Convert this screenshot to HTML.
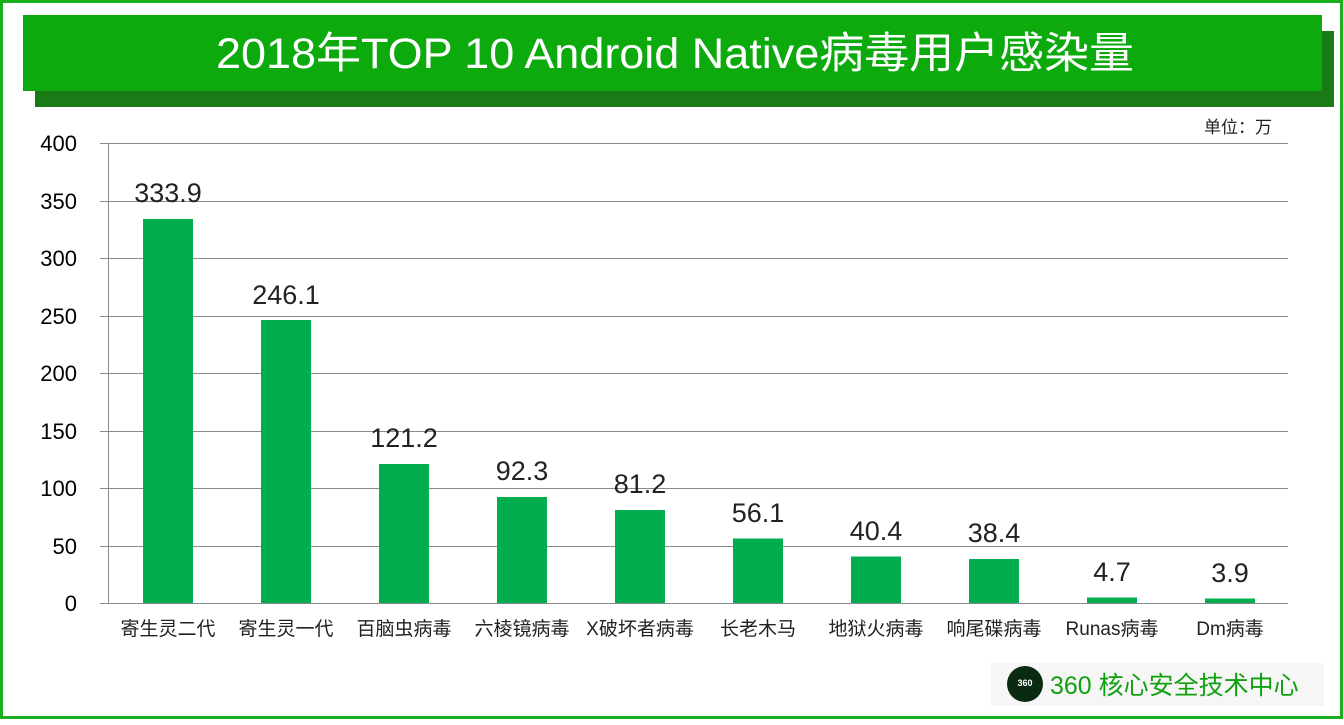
<!DOCTYPE html>
<html><head><meta charset="utf-8"><style>
body{margin:0;width:1344px;height:720px;overflow:hidden;background:#fff;font-family:"Liberation Sans","Noto Sans CJK SC",sans-serif;}
</style></head><body>
<svg width="1344" height="720" xmlns="http://www.w3.org/2000/svg" font-family="Liberation Sans, Noto Sans CJK SC, sans-serif">
<rect x="1.5" y="1.5" width="1340" height="716" fill="#fff" stroke="#19b01c" stroke-width="3"/>
<rect x="35" y="31" width="1299" height="76" fill="#1a7a16"/>
<rect x="23" y="15" width="1299" height="76" fill="#0caa0c"/>
<text x="216" y="68" font-size="43" fill="#fff" textLength="918" lengthAdjust="spacingAndGlyphs">2018年TOP 10 Android Native病毒用户感染量</text>
<text x="1272" y="133" font-size="17" fill="#222" text-anchor="end">单位：万</text>
<g stroke="#8a8a8a" stroke-width="1">
<line x1="100" y1="143.5" x2="1288" y2="143.5"/>
<line x1="100" y1="201.5" x2="1288" y2="201.5"/>
<line x1="100" y1="258.5" x2="1288" y2="258.5"/>
<line x1="100" y1="316.5" x2="1288" y2="316.5"/>
<line x1="100" y1="373.5" x2="1288" y2="373.5"/>
<line x1="100" y1="431.5" x2="1288" y2="431.5"/>
<line x1="100" y1="488.5" x2="1288" y2="488.5"/>
<line x1="100" y1="546.5" x2="1288" y2="546.5"/>
<line x1="100" y1="603.5" x2="1288" y2="603.5"/>
<line x1="108.5" y1="143" x2="108.5" y2="604"/>
</g>
<g font-size="22" fill="#000" text-anchor="end">
<text x="77" y="151">400</text><text x="77" y="209">350</text><text x="77" y="266">300</text>
<text x="77" y="324">250</text><text x="77" y="381">200</text><text x="77" y="439">150</text>
<text x="77" y="496">100</text><text x="77" y="554">50</text><text x="77" y="611">0</text>
</g>
<g fill="#00ae4f">
<rect x="143" y="219" width="50" height="384"/>
<rect x="261" y="320" width="50" height="283"/>
<rect x="379" y="464" width="50" height="139"/>
<rect x="497" y="497" width="50" height="106"/>
<rect x="615" y="510" width="50" height="93"/>
<rect x="733" y="538.5" width="50" height="64.5"/>
<rect x="851" y="556.5" width="50" height="46.5"/>
<rect x="969" y="559" width="50" height="44"/>
<rect x="1087" y="597.5" width="50" height="5.5"/>
<rect x="1205" y="598.5" width="50" height="4.5"/>
</g>
<g font-size="27" fill="#222" text-anchor="middle">
<text x="168" y="202">333.9</text><text x="286" y="304">246.1</text><text x="404" y="447">121.2</text>
<text x="522" y="480">92.3</text><text x="640" y="493">81.2</text><text x="758" y="522">56.1</text>
<text x="876" y="540">40.4</text><text x="994" y="542">38.4</text><text x="1112" y="581">4.7</text>
<text x="1230" y="582">3.9</text>
</g>
<g font-size="19" fill="#222" text-anchor="middle">
<text x="168" y="635">寄生灵二代</text><text x="286" y="635">寄生灵一代</text><text x="404" y="635">百脑虫病毒</text>
<text x="522" y="635">六棱镜病毒</text><text x="640" y="635">X破坏者病毒</text><text x="758" y="635">长老木马</text>
<text x="876" y="635">地狱火病毒</text><text x="994" y="635">响尾碟病毒</text><text x="1112" y="635">Runas病毒</text>
<text x="1230" y="635">Dm病毒</text>
</g>
<rect x="991" y="663" width="333" height="43" fill="#f6f6f6"/>
<circle cx="1025" cy="684" r="18" fill="#0a2a12"/>
<text x="1025" y="686" font-size="9" fill="#fff" text-anchor="middle" font-weight="bold">360</text>
<text x="1050" y="694" font-size="25" fill="#10a010">360 核心安全技术中心</text>
</svg>
</body></html>
